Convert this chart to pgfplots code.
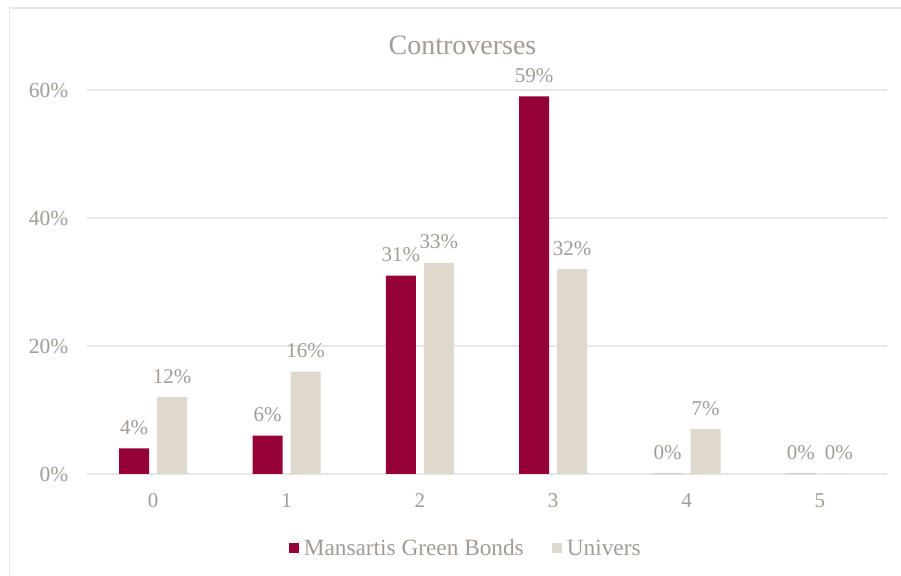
\documentclass[border=0pt]{standalone}
\usepackage{fontspec}
\setmainfont{Liberation Serif}
\usepackage{pgfplots}
\pgfplotsset{compat=1.18}
\definecolor{txt}{RGB}{163,155,148}
\definecolor{maroon}{RGB}{150,0,57}
\definecolor{beige}{RGB}{222,216,205}
\definecolor{gridc}{RGB}{230,230,230}
\begin{document}
\begin{tikzpicture}[x=1pt,y=1pt]
\useasboundingbox (0,0) rectangle (901,575);
\draw[gridc, line width=1.5pt] (9.5,0) -- (9.5,567) -- (901,567);
\begin{axis}[
  at={(86.5pt,101pt)}, anchor=south west,
  scale only axis, width=800pt, height=384pt,
  xmin=-0.5, xmax=5.5, ymin=0, ymax=60,
  ybar=8pt, bar width=30pt,
  /pgf/number format/assume math mode=true,
  axis line style={draw=none},
  major tick length=0pt,
  xtick={0,1,2,3,4,5},
  ytick={0,20,40,60},
  ymajorgrids, grid style={gridc, line width=1.2pt},
  yticklabel={\pgfmathprintnumber{\tick}\%},
  yticklabel style={font=\fontsize{21.5}{21.5}\selectfont, text=txt, anchor=east, inner sep=0pt, xshift=-18pt},
  xticklabel style={font=\fontsize{21}{21}\selectfont, text=txt, anchor=center, inner sep=0pt, yshift=-27pt},
  nodes near coords={\pgfmathprintnumber[fixed,precision=0]{\pgfplotspointmeta}\%},
  nodes near coords style={font=\fontsize{21}{21}\selectfont, text=txt, anchor=base, inner sep=0pt, yshift=14pt},
  title={Controverses},
  title style={font=\fontsize{28}{28}\selectfont, text=txt, at={(0.47,1)}, anchor=center, inner sep=0pt, yshift=39pt},
  legend columns=2,
  legend style={at={(0.474,-0.193)}, anchor=center, draw=none, fill=none,
    font=\fontsize{23.3}{23.3}\selectfont, text=txt, inner sep=0pt,
    /tikz/every even column/.append style={column sep=26pt}},
  legend cell align=left,
  legend image code/.code={\fill[#1] (0pt,-5pt) rectangle (10pt,5pt); \path (0pt,0pt) -- (13pt,0pt);},
]
\addplot[fill=maroon, draw=none] coordinates {(0,4) (1,6) (2,31) (3,59) (4,0) (5,0)};
\addplot[fill=beige, draw=none] coordinates {(0,12) (1,16) (2,33) (3,32) (4,7) (5,0)};
\legend{Mansartis Green Bonds, Univers}
\end{axis}
\end{tikzpicture}
\end{document}
